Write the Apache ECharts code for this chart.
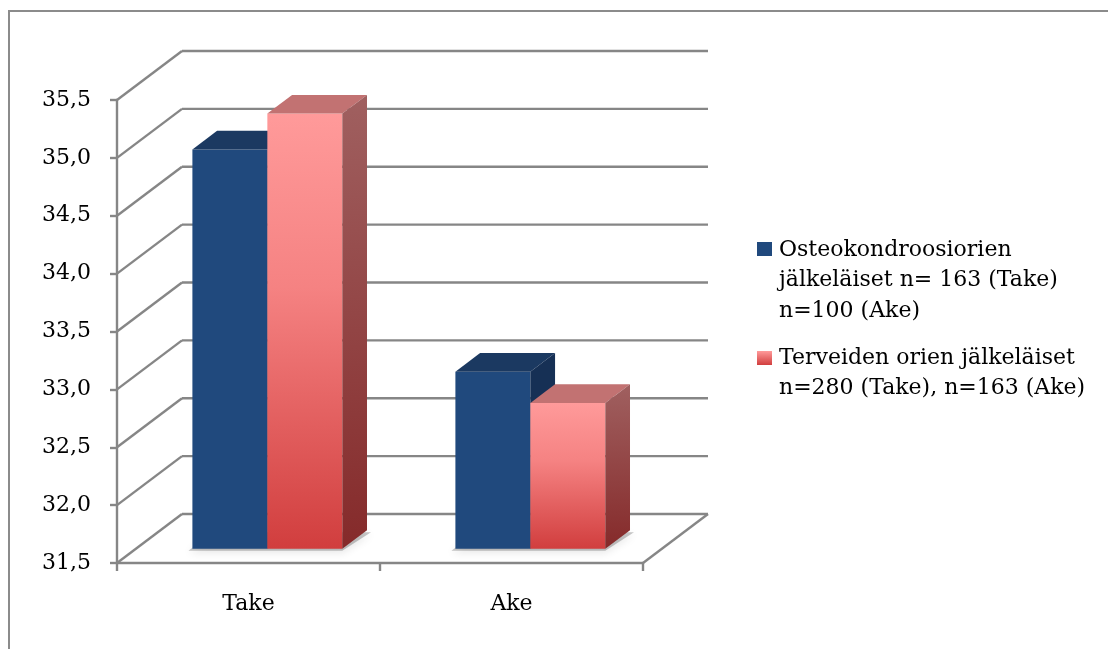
<!DOCTYPE html>
<html>
<head>
<meta charset="utf-8">
<script src="https://cdn.jsdelivr.net/npm/echarts@6/dist/echarts.min.js"></script>
<style>
  html, body { margin: 0; padding: 0; background: #ffffff; }
  #chart { width: 1108px; height: 649px; }
</style>
</head>
<body>
<div id="chart"></div>
<script>
// ---- data ----
const categories = ['Take', 'Ake'];
const seriesNames = [
  'Osteokondroosiorien\njälkeläiset n= 163 (Take)\nn=100 (Ake)',
  'Terveiden orien jälkeläiset\nn=280 (Take), n=163 (Ake)'
];
const osteoValues = [34.95, 33.03];
const healthyValues = [35.26, 32.76];
const valueTicks = [31.5, 32.0, 32.5, 33.0, 33.5, 34.0, 34.5, 35.0, 35.5];

// ---- 3D look: oblique depth of the plot box ----
const DX = 65, DY = -49;          // full depth offset (front plane -> back wall)
const F0 = 0.29, F1 = 0.67;       // bar front / back as fractions of depth
const BAR_SHARE = 0.285;          // bar width as share of a category
const FONT = '"DejaVu Serif", serif';
const LINE = '#868686';
const LINE_W = 2.4;

const Y_MIN = valueTicks[0];
const Y_MAX = valueTicks[valueTicks.length - 1];
const Y_STEP = valueTicks[1] - valueTicks[0];

const palettes = [
  { front: '#20497d', top: '#1b3961', side: '#163055' },
  {
    front: new echarts.graphic.LinearGradient(0, 0, 0, 1, [
      { offset: 0, color: '#ff9a9a' },
      { offset: 0.4, color: '#f58282' },
      { offset: 1, color: '#d13e3e' }
    ]),
    top: '#c27272',
    side: new echarts.graphic.LinearGradient(0, 0, 0, 1, [
      { offset: 0, color: '#a06060' },
      { offset: 1, color: '#852a2a' }
    ])
  }
];

// back wall gridlines plus the diagonals joining them to the value axis
function renderWall(params, api) {
  const cs = params.coordSys;
  const y = api.coord([0, api.value(1)])[1];
  const x0 = cs.x, x1 = cs.x + cs.width;
  const style = { stroke: LINE, lineWidth: LINE_W };
  const children = [
    { type: 'line', shape: { x1: x0, y1: y, x2: x0 + DX, y2: y + DY }, style },
    { type: 'line', shape: { x1: x0 + DX, y1: y + DY, x2: x1 + DX, y2: y + DY }, style }
  ];
  if (params.dataIndex === 0) {
    children.push({ type: 'line', shape: { x1: x1, y1: y, x2: x1 + DX, y2: y + DY }, style });
  }
  return { type: 'group', children };
}

// soft floor shadow under each bar pair
function renderShadow(params, api) {
  const cat = api.value(0);
  const base = api.coord([cat, Y_MIN]);
  const bw = api.size([1, 0])[0] * BAR_SHARE;
  const xl = base[0] - bw + F0 * DX - 4;
  const xr = base[0] + bw + F0 * DX;
  const yb = base[1] + F0 * DY + 2;
  const ddx = (F1 - F0) * DX, ddy = (F1 - F0) * DY;
  return {
    type: 'polygon',
    shape: { points: [[xl, yb], [xr, yb], [xr + ddx + 4, yb + ddy], [xl + ddx, yb + ddy]] },
    style: { fill: 'rgba(0,0,0,0.22)', shadowBlur: 8, shadowColor: 'rgba(0,0,0,0.45)', shadowOffsetY: 2 }
  };
}

function makeBarRenderer(slot) {
  const pal = palettes[slot];
  return function (params, api) {
    const cat = api.value(0);
    const top = api.coord([cat, api.value(1)]);
    const base = api.coord([cat, Y_MIN]);
    const bw = api.size([1, 0])[0] * BAR_SHARE;
    const xl = top[0] + (slot - 1) * bw + F0 * DX;
    const xr = xl + bw;
    const yt = top[1] + F0 * DY;
    const yb = base[1] + F0 * DY;
    const ddx = (F1 - F0) * DX, ddy = (F1 - F0) * DY;
    return {
      type: 'group',
      children: [
        { type: 'rect', shape: { x: xl, y: yt, width: bw, height: yb - yt }, style: { fill: pal.front } },
        { type: 'polygon', shape: { points: [[xl, yt], [xr, yt], [xr + ddx, yt + ddy], [xl + ddx, yt + ddy]] }, style: { fill: pal.top } },
        { type: 'polygon', shape: { points: [[xr, yt], [xr + ddx, yt + ddy], [xr + ddx, yb + ddy], [xr, yb]] }, style: { fill: pal.side } }
      ]
    };
  };
}

const chart = echarts.init(document.getElementById('chart'), null, { renderer: 'canvas' });

const legendTextStyle = { font: '22px ' + FONT, fill: '#000000', lineHeight: 30.5, verticalAlign: 'top', align: 'left' };

chart.setOption({
  animation: false,
  backgroundColor: '#ffffff',
  grid: { left: 117, top: 100, width: 526, height: 463, outerBoundsMode: 'none' },
  xAxis: {
    type: 'category',
    data: categories,
    axisLine: { lineStyle: { color: LINE, width: LINE_W } },
    axisTick: { show: true, length: 8, lineStyle: { color: LINE, width: LINE_W } },
    axisLabel: { margin: 30, color: '#000000', fontFamily: FONT, fontSize: 22 },
    splitLine: { show: false }
  },
  yAxis: {
    type: 'value',
    min: Y_MIN,
    max: Y_MAX,
    interval: Y_STEP,
    axisLine: { show: true, lineStyle: { color: LINE, width: LINE_W } },
    axisTick: { show: true, length: 7, lineStyle: { color: LINE, width: LINE_W } },
    axisLabel: {
      margin: 26,
      color: '#000000',
      fontFamily: FONT,
      fontSize: 22,
      formatter: v => v.toFixed(1).replace('.', ',')
    },
    splitLine: { show: false }
  },
  series: [
    {
      type: 'custom', name: 'wall', z: 1, clip: false, silent: true,
      renderItem: renderWall,
      data: valueTicks.map(v => [0, v])
    },
    {
      type: 'custom', name: 'shadow', z: 2, clip: false, silent: true,
      renderItem: renderShadow,
      data: categories.map((c, i) => [i, Y_MIN])
    },
    {
      type: 'custom', name: seriesNames[0], z: 3, clip: false,
      renderItem: makeBarRenderer(0),
      data: osteoValues.map((v, i) => [i, v])
    },
    {
      type: 'custom', name: seriesNames[1], z: 3, clip: false,
      renderItem: makeBarRenderer(1),
      data: healthyValues.map((v, i) => [i, v])
    }
  ],
  graphic: [
    {
      type: 'rect', silent: true, z: 0,
      shape: { x: 9, y: 11, width: 1200, height: 700 },
      style: { fill: null, stroke: '#8b8b8b', lineWidth: 2 }
    },
    {
      type: 'rect', silent: true, z: 5,
      shape: { x: 757, y: 242, width: 15, height: 14 },
      style: { fill: '#20497d' }
    },
    {
      type: 'text', silent: true, z: 5, x: 779, y: 235,
      style: Object.assign({ text: seriesNames[0] }, legendTextStyle)
    },
    {
      type: 'rect', silent: true, z: 5,
      shape: { x: 757, y: 351, width: 15, height: 14 },
      style: {
        fill: new echarts.graphic.LinearGradient(0, 0, 0, 1, [
          { offset: 0, color: '#ff9a9a' },
          { offset: 1, color: '#d13e3e' }
        ])
      }
    },
    {
      type: 'text', silent: true, z: 5, x: 779, y: 344,
      style: Object.assign({ text: seriesNames[1] }, legendTextStyle, { lineHeight: 29.5 })
    }
  ]
});
</script>
</body>
</html>
